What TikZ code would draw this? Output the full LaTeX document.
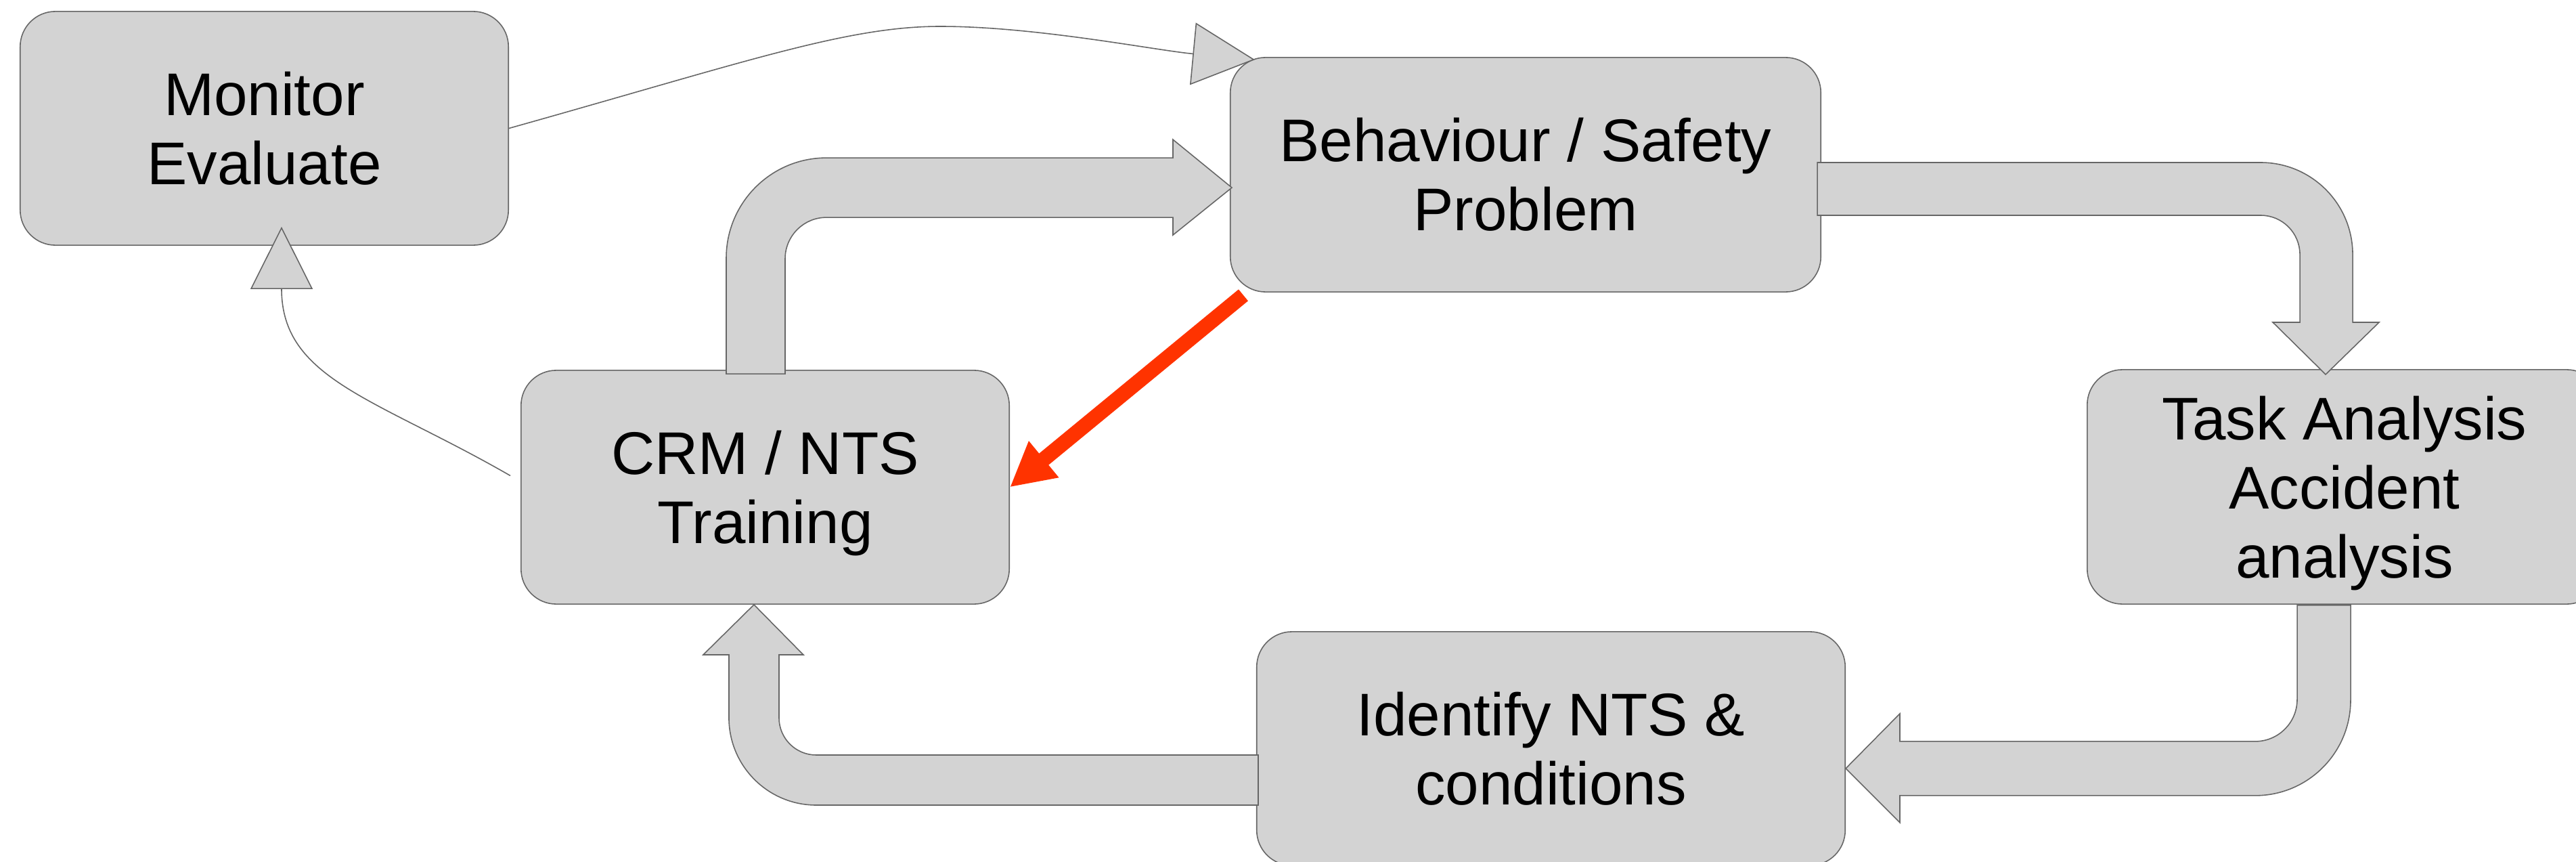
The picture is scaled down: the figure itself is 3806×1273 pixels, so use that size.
\documentclass[tikz,border=0pt]{standalone}
\usepackage{fontspec}
\setmainfont{Liberation Sans}
\usetikzlibrary{arrows.meta}

\definecolor{boxfill}{HTML}{D3D3D3}
\definecolor{boxline}{HTML}{666666}
\definecolor{hotred}{HTML}{FF3300}

% last line without its descender, so the text sits as in the boxes without one
\newcommand{\nodepth}[1]{\raisebox{0pt}[\height][0pt]{#1}}

\tikzset{
  box/.style={draw=boxline, fill=boxfill, line width=0.45pt, rounded corners=0.52cm,
    inner sep=0pt, align=center, font=\fontsize{25.3}{29}\selectfont},
  bigarrow/.style={draw=boxline, fill=boxfill, line width=0.45pt, line join=miter},
  link/.style={draw=boxline, line width=0.45pt,
    -{Triangle[length=9.2mm, width=9.2mm, fill=boxfill]}},
  hotlink/.style={draw=hotred, line width=2.2mm, -{Triangle[length=6.5mm, width=6.5mm]}}
}

\begin{document}
\begin{tikzpicture}[x=0.01cm, y=-0.01cm]
\useasboundingbox (0,0) rectangle (3806,1273);

% the five steps
\node[box, minimum width=7.21cm, minimum height=3.45cm] (monitor) at (390.5,189.5) {Monitor\\Evaluate};
\node[box, minimum width=8.72cm, minimum height=3.46cm] (behav) at (2254,258) {Behaviour / Safety\\Problem};
\node[box, minimum width=7.21cm, minimum height=3.45cm] (crm) at (1130.5,719.5) {CRM / NTS\\\nodepth{Training}};
\node[box, minimum width=7.60cm, minimum height=3.46cm] (task) at (3464,719) {Task Analysis\\Accident\\\nodepth{analysis}};
\node[box, minimum width=8.69cm, minimum height=3.45cm] (ident) at (2291.5,1105.5) {Identify NTS \&\\conditions};

% bent block arrows of the loop
\draw[bigarrow] ([shift={(-57.5,6)}]crm.north) -- ++(0,-171)
  arc[start angle=180, end angle=270, radius=148] -- ++(512,0) -- ++(0,-27)
  -- ++(87,71) -- ++(-87,70) -- ++(0,-26) -- ++(-512,0)
  arc[start angle=270, end angle=180, radius=61] -- ++(0,170) -- cycle;
\draw[bigarrow] ([shift={(-6,-18)}]behav.east) -- ++(655,0)
  arc[start angle=270, end angle=360, radius=136] -- ++(0,100) -- ++(39,0)
  -- ++(-79,77) -- ++(-78,-77) -- ++(40,0) -- ++(0,-100)
  arc[start angle=0, end angle=-90, radius=58] -- ++(-655,0) -- cycle;
\draw[bigarrow] ([shift={(-70,1)}]task.south) -- ++(79,0) -- ++(0,140)
  arc[start angle=0, end angle=90, radius=141] -- ++(-525,0) -- ++(0,40)
  -- ++(-80,-80) -- ++(80,-81) -- ++(0,41) -- ++(525,0)
  arc[start angle=90, end angle=0, radius=62] -- cycle;
\draw[bigarrow] ([shift={(3,9.5)}]ident.west) -- ++(0,74) -- ++(-653,0)
  arc[start angle=90, end angle=180, radius=129] -- ++(0,-93) -- ++(-38,0)
  -- ++(75,-74) -- ++(73,74) -- ++(-36,0) -- ++(0,93)
  arc[start angle=180, end angle=90, radius=55] -- cycle;

% thin feedback links
\draw[link] (monitor.east) .. controls (1100,92) and (1250,39) .. (1389,39)
  .. controls (1530,39) and (1705,74) .. ([shift={(37,4)}]behav.north west);
\draw[link] ([shift={(-15,-17)}]crm.west) .. controls (555,588) and (416,560)
  .. ([shift={(25.5,-28)}]monitor.south);

% short cut
\draw[hotlink] ([shift={(20,4)}]behav.south west) -- (crm.east);
\end{tikzpicture}
\end{document}
